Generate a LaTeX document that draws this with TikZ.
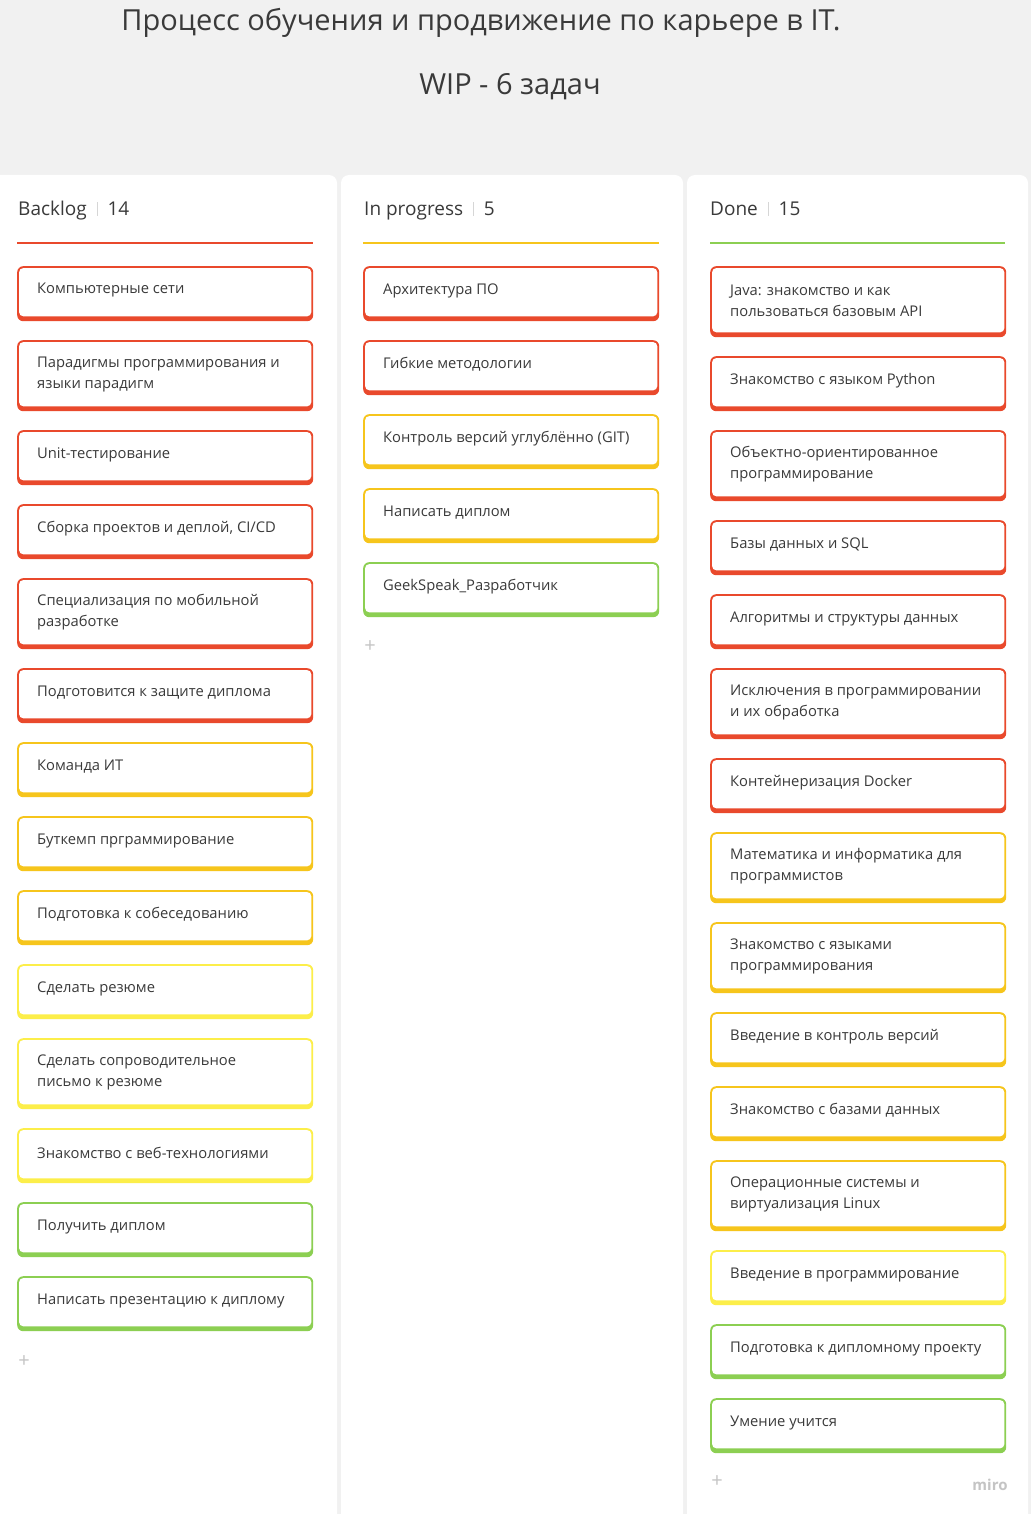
\documentclass[tikz,border=0pt]{standalone}
\usepackage{fontspec}
\setmainfont{Open Sans}
\definecolor{bgc}{HTML}{F1F1F1}
\definecolor{txt}{HTML}{3A3A3A}
\definecolor{sepc}{HTML}{D6D6D6}
\definecolor{cred}{HTML}{E9492C}
\definecolor{cdy}{HTML}{F6C51C}
\definecolor{cly}{HTML}{FCEE4A}
\definecolor{cgr}{HTML}{8CCF52}
\definecolor{plusc}{HTML}{C4C4C4}
\tikzset{
  cardbg/.style={anchor=north west, inner sep=0pt, minimum width=296pt, rounded corners=6pt, draw=none},
  cardtext/.style={anchor=west, inner sep=0pt, align=left, text=txt, font=\fontsize{14.75}{21}\selectfont},
  headtext/.style={anchor=base west, inner sep=0pt, text=txt, font=\fontsize{19}{19}\selectfont},
  column/.style={fill=white, rounded corners=8pt},
  plussign/.style={inner sep=0pt, text=plusc, font=\fontsize{20}{20}\selectfont},
}
% #1 name, #2 x, #3 y, #4 height, #5 color, #6 text offset, #7 text
\newcommand\kcard[7]{%
  \node[cardbg, fill=#5, minimum height=#4pt] (#1) at (#2,#3) {};
  \fill[white, rounded corners=4.5pt] ([shift={(2pt,-2pt)}]#1.north west) rectangle ([shift={(-2pt,5pt)}]#1.south east);
  \node[cardtext] (#1-t) at ([shift={(20pt,-#6pt)}]#1.north west) {#7};
}
\newcommand\cardA[5]{\kcard{#1}{#2}{#3}{55}{#4}{24.5}{#5}}
\newcommand\cardB[5]{\kcard{#1}{#2}{#3}{71}{#4}{34.5}{#5}}
\begin{document}
\begin{tikzpicture}[x=1pt,y=-1pt]
\useasboundingbox (0,0) rectangle (1031,1514);
\clip (0,0) rectangle (1031,1514);
\fill[bgc] (0,0) rectangle (1031,1514);
% title
\node[text=txt, font=\fontsize{29}{29}\selectfont, inner sep=0pt] (title) at (481,22.5) {Процесс обучения и продвижение по карьере в IT.};
\node[text=txt, font=\fontsize{29}{29}\selectfont, inner sep=0pt] (wip) at (510,86.5) {WIP - 6 задач};
% columns
\fill[column] (-10,175) rectangle (337,1540);
\fill[column] (341,175) rectangle (683,1540);
\fill[column] (687,175) rectangle (1028,1540);
% headers
\node[headtext] (hb) at (18,216) {Backlog\hspace{10pt}\textcolor{sepc}{\rule{0.8pt}{14pt}}\hspace{10pt}14};
\node[headtext] (hp) at (364,216) {In progress\hspace{10pt}\textcolor{sepc}{\rule{0.8pt}{14pt}}\hspace{10pt}5};
\node[headtext] (hd) at (710,216) {Done\hspace{10pt}\textcolor{sepc}{\rule{0.8pt}{14pt}}\hspace{10pt}15};
\draw[cred, line width=2pt] (17,243) -- (313,243);
\draw[cdy, line width=2pt] (363,243) -- (659,243);
\draw[cgr, line width=2pt] (710,243) -- (1005,243);
% Backlog
\cardA{b1}{17}{266}{cred}{Компьютерные сети}
\cardB{b2}{17}{340}{cred}{Парадигмы программирования и\\языки парадигм}
\cardA{b3}{17}{430}{cred}{Unit-тестирование}
\cardA{b4}{17}{504}{cred}{Сборка проектов и деплой, CI/CD}
\cardB{b5}{17}{578}{cred}{Специализация по мобильной\\разработке}
\cardA{b6}{17}{668}{cred}{Подготовится к защите диплома}
\cardA{b7}{17}{742}{cdy}{Команда ИТ}
\cardA{b8}{17}{816}{cdy}{Буткемп прграммирование}
\cardA{b9}{17}{890}{cdy}{Подготовка к собеседованию}
\cardA{b10}{17}{964}{cly}{Сделать резюме}
\cardB{b11}{17}{1038}{cly}{Сделать сопроводительное\\письмо к резюме}
\cardA{b12}{17}{1128}{cly}{Знакомство с веб-технологиями}
\cardA{b13}{17}{1202}{cgr}{Получить диплом}
\cardA{b14}{17}{1276}{cgr}{Написать презентацию к диплому}
\node[plussign] (bplus) at (24,1362) {+};
% In progress
\cardA{p1}{363}{266}{cred}{Архитектура ПО}
\cardA{p2}{363}{340}{cred}{Гибкие методологии}
\cardA{p3}{363}{414}{cdy}{Контроль версий углублённо (GIT)}
\cardA{p4}{363}{488}{cdy}{Написать диплом}
\cardA{p5}{363}{562}{cgr}{GeekSpeak\_Разработчик}
\node[plussign] (pplus) at (370,647) {+};
% Done
\cardB{d1}{710}{266}{cred}{Java: знакомство и как\\пользоваться базовым API}
\cardA{d2}{710}{356}{cred}{Знакомство с языком Python}
\cardB{d3}{710}{430}{cred}{Объектно-ориентированное\\программирование}
\cardA{d4}{710}{520}{cred}{Базы данных и SQL}
\cardA{d5}{710}{594}{cred}{Алгоритмы и структуры данных}
\cardB{d6}{710}{668}{cred}{Исключения в программировании\\и их обработка}
\cardA{d7}{710}{758}{cred}{Контейнеризация Docker}
\cardB{d8}{710}{832}{cdy}{Математика и информатика для\\программистов}
\cardB{d9}{710}{922}{cdy}{Знакомство с языками\\программирования}
\cardA{d10}{710}{1012}{cdy}{Введение в контроль версий}
\cardA{d11}{710}{1086}{cdy}{Знакомство с базами данных}
\cardB{d12}{710}{1160}{cdy}{Операционные системы и\\виртуализация Linux}
\cardA{d13}{710}{1250}{cly}{Введение в программирование}
\cardA{d14}{710}{1324}{cgr}{Подготовка к дипломному проекту}
\cardA{d15}{710}{1398}{cgr}{Умение учится}
\node[plussign] (dplus) at (717,1482) {+};
\node[inner sep=0pt, text=plusc, font=\fontsize{15}{15}\selectfont\bfseries] (miro) at (990,1485) {miro};
\end{tikzpicture}
\end{document}
